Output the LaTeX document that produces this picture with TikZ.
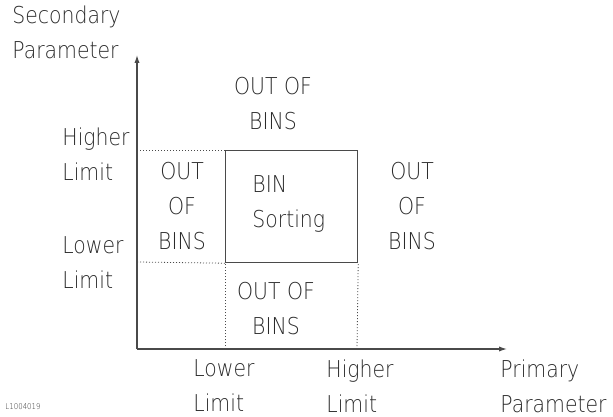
\documentclass[tikz,border=0pt]{standalone}
\usepackage{fontspec}
\setmainfont[FakeStretch=0.88]{DejaVuSans-ExtraLight.ttf}
\usepackage{tikz}
\usetikzlibrary{positioning, arrows.meta}
\definecolor{plotink}{HTML}{2A2A2A}
\definecolor{plotline}{HTML}{4A4A4A}
\tikzset{
  >={Latex[length=4pt, width=2.6pt]},
  every node/.style={font=\fontsize{11.6}{17.5}\selectfont, text=plotink, inner sep=0pt},
  axislabel/.style={anchor=west, align=left},
  regionlabel/.style={align=center},
  axisline/.style={->, plotline, line width=0.6pt},
  limitline/.style={plotline, line width=0.4pt, dash pattern=on 0.5pt off 1pt},
  binbox/.style={draw=plotline, line width=0.6pt}
}

\begin{document}
\begin{tikzpicture}[x=0.5pt, y=-0.5pt]
\useasboundingbox (0,0) rectangle (613,416);

% ── Axes ─────────────────────────────────────────────────────────────────────
\coordinate (orig) at (137,349);
\coordinate (ytip) at (137,55);
\coordinate (xtip) at (507,349);
\draw[axisline] (orig) -- (ytip);
\draw[axisline] (orig) -- (xtip);

% ── Limits on each axis ──────────────────────────────────────────────────────
\coordinate (hiy) at (137,150);
\coordinate (loy) at (137,262);
\coordinate (lox) at (225,349);
\coordinate (hix) at (357,349);

% ── Accept window (BIN) ──────────────────────────────────────────────────────
\node[binbox, minimum width=66pt, minimum height=56pt, anchor=north west]
  (bin) at (225,150) {};
\draw[limitline] (hiy) -- (bin.north west);
\draw[limitline] (loy) -- (bin.south west);
\draw[limitline] (lox) -- (bin.south west);
\draw[limitline] (hix) -- (bin.south east);

% ── Axis titles and limit labels ─────────────────────────────────────────────
\node[axislabel] (ytitle) at (12,32) {Secondary\\Parameter};
\node[axislabel] (yhigh) at (62,154) {Higher\\Limit};
\node[axislabel] (ylow) at (62,263) {Lower\\Limit};
\node[axislabel] (xlow) at (193,386) {Lower\\Limit};
\node[axislabel] (xhigh) at (326,386) {Higher\\Limit};
\node[axislabel] (xtitle) at (500,386) {Primary\\Parameter};

% ── Region labels ────────────────────────────────────────────────────────────
\node[regionlabel] (outtop) at (273,104) {OUT OF\\BINS};
\node[regionlabel] (outleft) at (182,206) {OUT\\OF\\BINS};
\node[regionlabel] (outright) at (412,206) {OUT\\OF\\BINS};
\node[regionlabel] (outbottom) at (276,309) {OUT OF\\BINS};
\node[axislabel] (binlabel) at (252,204) {BIN\\Sorting};

% figure id
\node[anchor=west, font=\fontsize{4}{5}\selectfont] (figid) at (5,407) {L1004019};

\end{tikzpicture}
\end{document}
